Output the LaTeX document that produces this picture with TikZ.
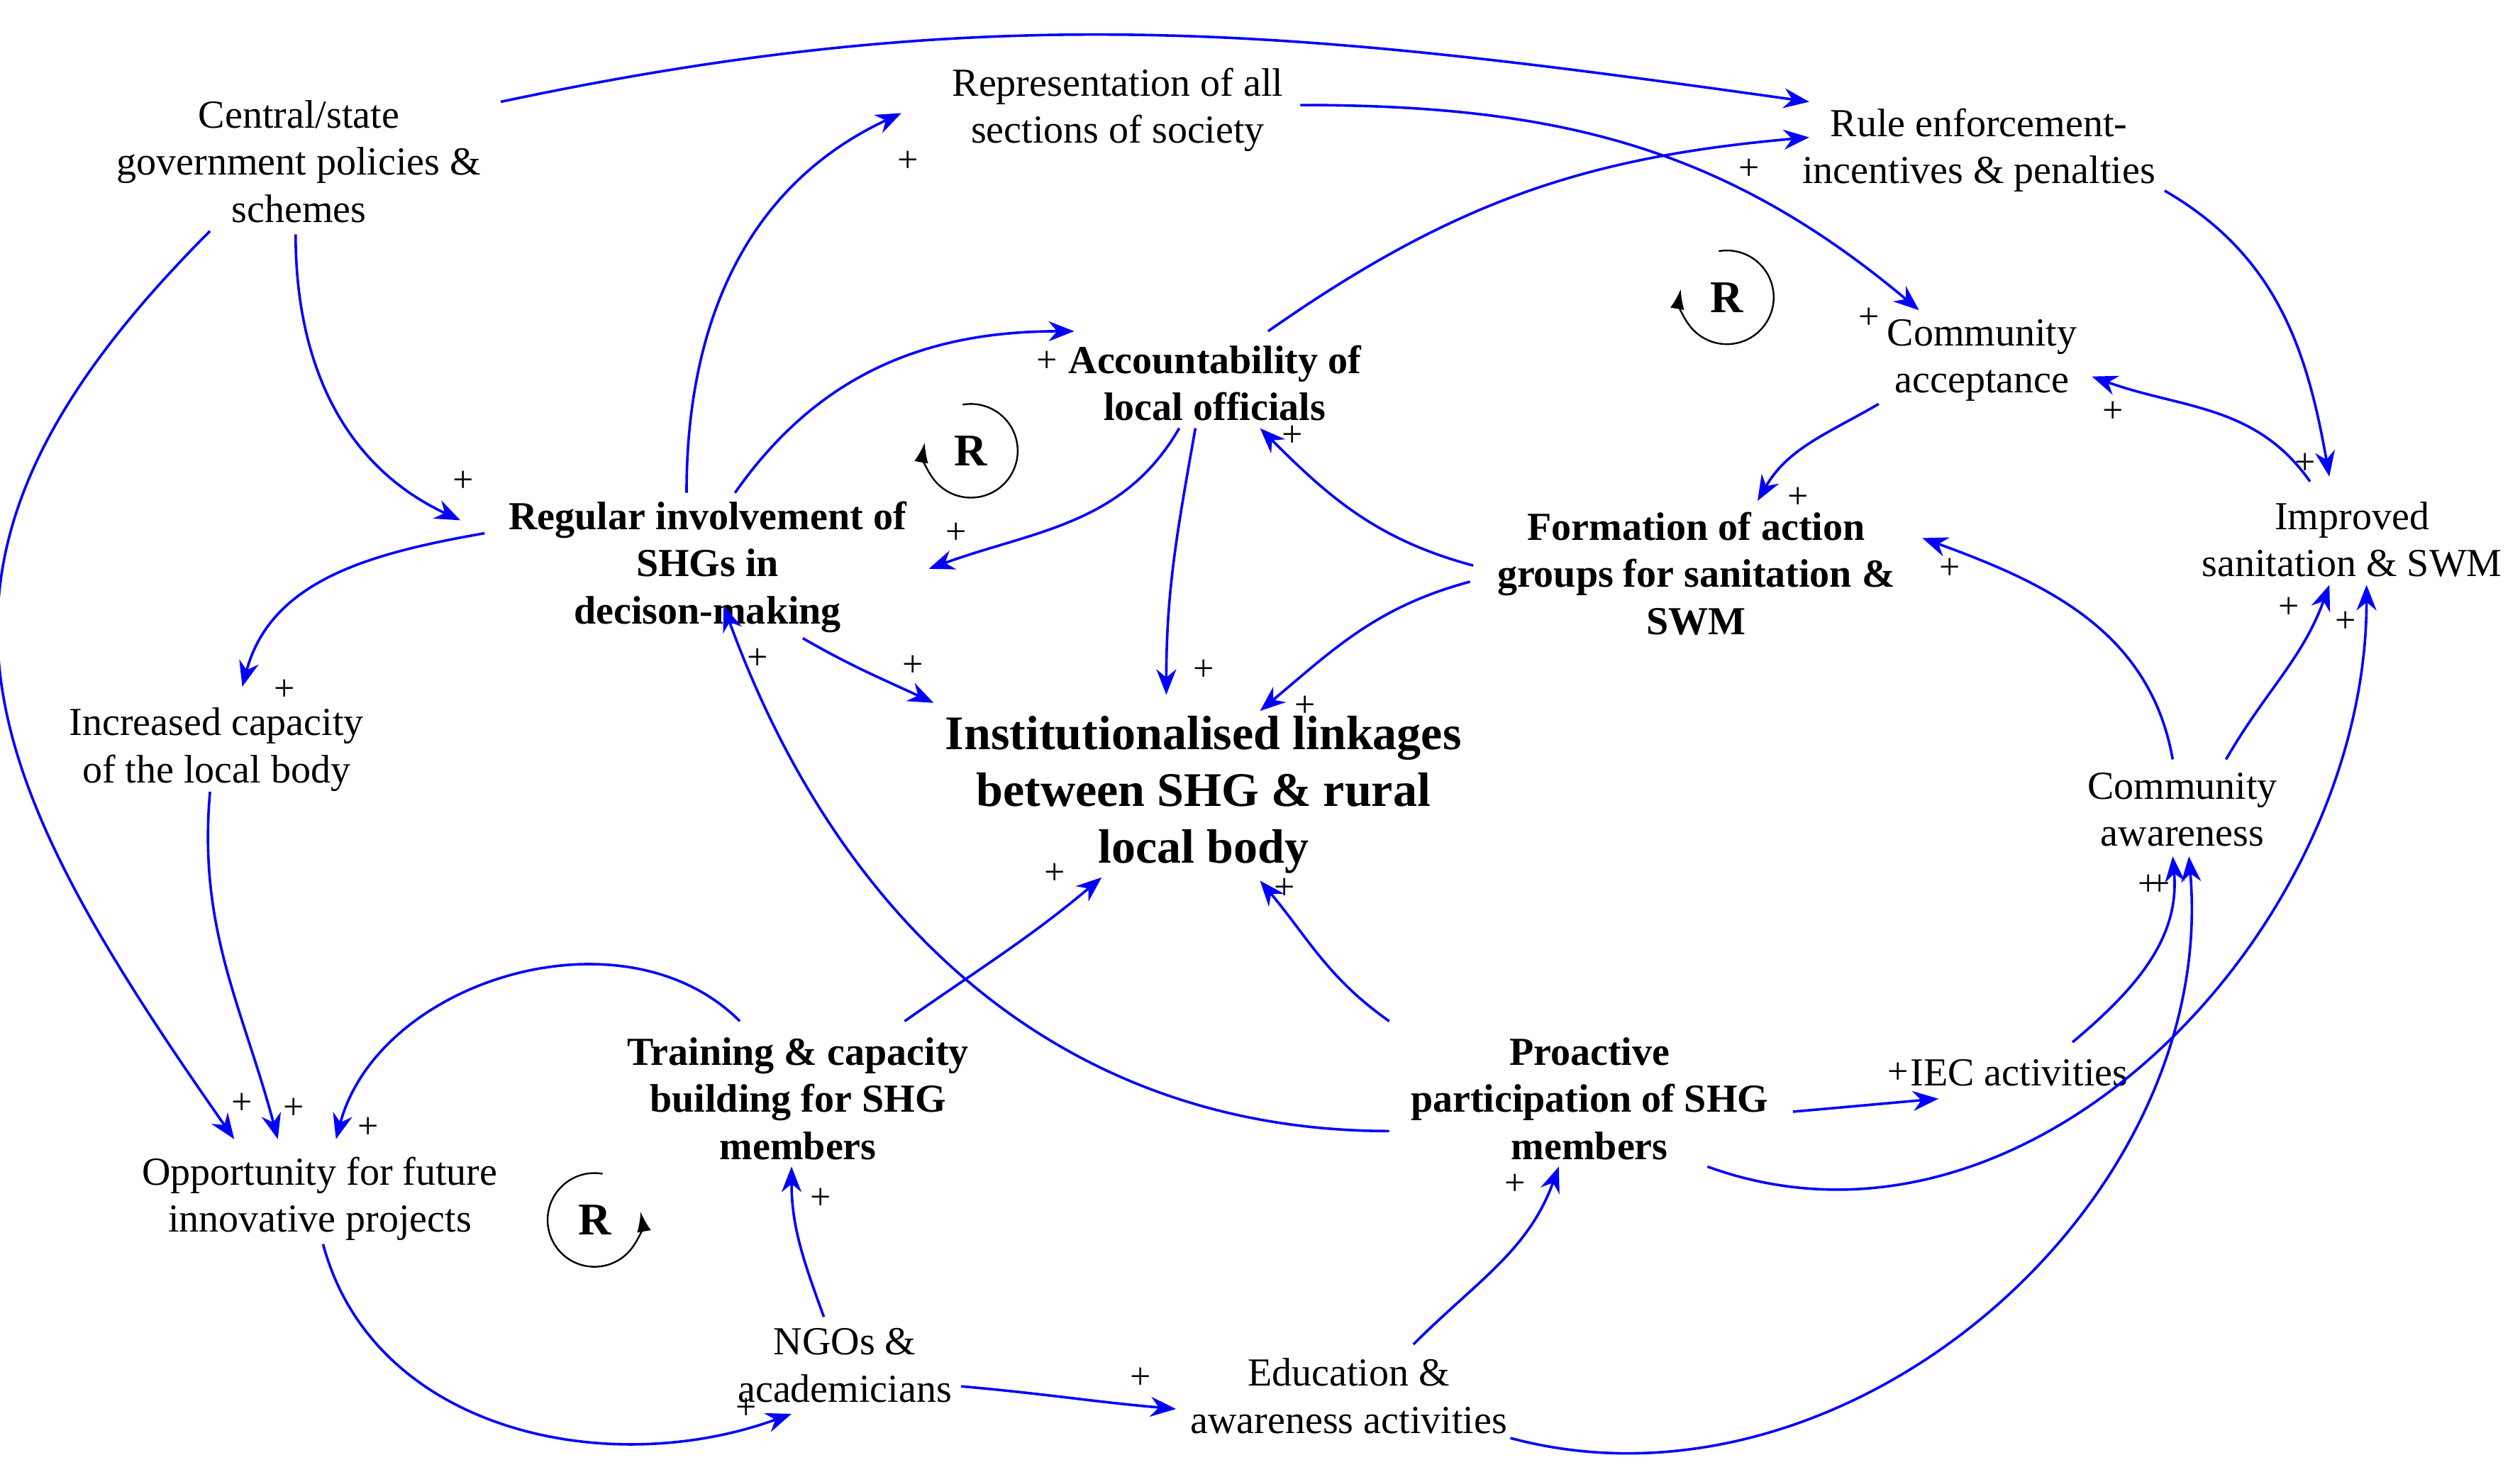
\documentclass[tikz,border=0pt]{standalone}
\usepackage{fontspec}
\setmainfont{Liberation Serif}
\usetikzlibrary{arrows.meta}
\begin{document}
\begin{tikzpicture}[x=0.02cm,y=-0.02cm,
 t/.style={align=center,inner sep=2pt,font=\fontsize{14}{16.6}\selectfont},
 b/.style={t,font=\fontsize{14}{16.6}\selectfont\bfseries},
 p/.style={inner sep=0pt,font=\fontsize{13}{13}\selectfont},
 e/.style={draw=blue,line width=0.9pt,-{Stealth[length=9pt,width=7pt]},fill=none},
 lp/.style={line width=0.6pt,-{Latex[length=7pt,width=5pt]}}]
\useasboundingbox (0,0) rectangle (1560,917);
\node[t] (cs) at (185,100) {Central/state\\government policies \&\\schemes};
\node[t] (rep) at (692,68) {Representation of all\\sections of society};
\node[t] (rule) at (1225,93) {Rule enforcement-\\incentives \& penalties};
\node[t] (ca) at (1227,223) {Community\\acceptance};
\node[b] (acc) at (752,237) {Accountability of\\local officials};
\node[b] (reg) at (438,351) {Regular involvement of\\SHGs in\\decison-making};
\node[b] (form) at (1050,355) {Formation of action\\groups for sanitation \&\\SWM};
\node[t] (imp) at (1456,334) {Improved\\sanitation \& SWM};
\node[t] (inc) at (134,464) {Increased capacity\\of the local body};
\node[t,font=\fontsize{17}{20}\selectfont\bfseries] (inst) at (745,492) {Institutionalised linkages\\between SHG \& rural\\local body};
\node[t] (caw) at (1351,501) {Community\\awareness};
\node[b] (tr) at (494,680) {Training \& capacity\\building for SHG\\members};
\node[b] (pro) at (984,680) {Proactive\\participation of SHG\\members};
\node[t] (iec) at (1250,664) {IEC activities};
\node[t] (opp) at (198,742) {Opportunity for future\\innovative projects};
\node[t] (ngo) at (523,845) {NGOs \&\\academicians};
\node[t] (edu) at (835,864) {Education \&\\awareness activities};
% loops
\node[font=\fontsize{16}{16}\selectfont\bfseries] (l1) at (601,279) {R};
\node[font=\fontsize{16}{16}\selectfont\bfseries] (l2) at (1069,184) {R};
\node[font=\fontsize{16}{16}\selectfont\bfseries] (l3) at (368,755) {R};
\draw[lp] ([shift={(100:0.58cm)}]l1.center) arc[start angle=100,end angle=-190,radius=0.58cm];
\draw[lp] ([shift={(100:0.58cm)}]l2.center) arc[start angle=100,end angle=-190,radius=0.58cm];
\draw[lp] ([shift={(80:0.58cm)}]l3.center) arc[start angle=80,end angle=370,radius=0.58cm];
% edges
\draw[e] ([shift={(125,-37)}]cs.center) to[out=12,in=172] ([shift={(-105,-30)}]rule.center);
\draw[e] ([shift={(-2,45)}]cs.center) to[out=-90,in=155] ([shift={(-153,-29)}]reg.center);
\draw[e] ([shift={(-55,43)}]cs.center) to[out=-135,in=125,looseness=1.3] ([shift={(-53,-37)}]opp.center);
\draw[e] ([shift={(113,-3)}]rep.center) to[out=0,in=140] ([shift={(-39,-31)}]ca.center);
\draw[e] ([shift={(-13,-46)}]reg.center) to[out=90,in=205] ([shift={(-134,2)}]rep.center);
\draw[e] ([shift={(17,-46)}]reg.center) to[out=55,in=180] ([shift={(-87,-32)}]acc.center);
\draw[e] ([shift={(-22,28)}]acc.center) to[out=-120,in=20] ([shift={(137,1)}]reg.center);
\draw[e] ([shift={(33,-32)}]acc.center) to[out=35,in=185] ([shift={(-105,-8)}]rule.center);
\draw[e] ([shift={(-12,28)}]acc.center) to[out=-100,in=90] ([shift={(-23,-62)}]inst.center);
\draw[e] ([shift={(-138,-5)}]form.center) to[out=165,in=-45] ([shift={(28,28)}]acc.center);
\draw[e] ([shift={(-140,5)}]form.center) to[out=195,in=40] ([shift={(35,-52)}]inst.center);
\draw[e] ([shift={(-64,27)}]ca.center) to[out=-150,in=60] ([shift={(38,-45)}]form.center);
\draw[e] ([shift={(-26,-36)}]imp.center) to[out=125,in=-20] ([shift={(68,10)}]ca.center);
\draw[e] ([shift={(115,25)}]rule.center) to[out=-30,in=100] ([shift={(-14,-39)}]imp.center);
\draw[e] ([shift={(-138,-21)}]reg.center) to[out=190,in=75] ([shift={(16,-39)}]inc.center);
\draw[e] ([shift={(59,44)}]reg.center) to[out=-30,in=155] ([shift={(-167,-57)}]inst.center);
\draw[e] ([shift={(-124,20)}]pro.center) to[out=180,in=-70] ([shift={(10,24)}]reg.center);
\draw[e] ([shift={(-4,26)}]inc.center) to[out=-95,in=105] ([shift={(-26,-37)}]opp.center);
\draw[e] ([shift={(-36,-48)}]tr.center) to[out=135,in=75] ([shift={(10,-37)}]opp.center);
\draw[e] ([shift={(66,-48)}]tr.center) to[out=35,in=-140] ([shift={(-63,51)}]inst.center);
\draw[e] ([shift={(-124,-48)}]pro.center) to[out=145,in=-50] ([shift={(35,53)}]inst.center);
\draw[e] ([shift={(126,8)}]pro.center) to[out=5,in=185] ([shift={(-50,16)}]iec.center);
\draw[e] ([shift={(33,-19)}]iec.center) to[out=40,in=-85] ([shift={(-6,29)}]caw.center);
\draw[e] ([shift={(27,-31)}]caw.center) to[out=60,in=-110] ([shift={(-14,28)}]imp.center);
\draw[e] ([shift={(-6,-31)}]caw.center) to[out=100,in=-20] ([shift={(140,-22)}]form.center);
\draw[e] ([shift={(73,42)}]pro.center) to[out=-20,in=-90] ([shift={(9,28)}]imp.center);
\draw[e] ([shift={(2,28)}]opp.center) to[out=-75,in=200] ([shift={(-33,30)}]ngo.center);
\draw[e] ([shift={(-13,-30)}]ngo.center) to[out=110,in=-90] ([shift={(-4,42)}]tr.center);
\draw[e] ([shift={(72,13)}]ngo.center) to[out=-5,in=175] ([shift={(-107,8)}]edu.center);
\draw[e] ([shift={(40,-32)}]edu.center) to[out=45,in=-110] ([shift={(-19,42)}]pro.center);
\draw[e] ([shift={(100,26)}]edu.center) to[out=-15,in=-85] ([shift={(4,29)}]caw.center);
% polarities
\foreach \n/\x/\y in {a/287/298,b/150/683,c/1157/197,d/562/100,f/648/224,g/592/330,h/1083/105,i/745/415,j/800/270,k/808/437,l/1113/308,m/1308/255,n/1427/287,o/176/427,q/565/412,r/469/408,s/182/686,u/228/698,v/653/541,w/795/550,x/1175/664,y/1330/548,z/1417/376,aa/1207/352,ab/1452/385,ac/462/872,ad/508/742,ae/706/853,af/938/733,ag/1337/548}
  \node[p] (p\n) at (\x,\y) {+};
\end{tikzpicture}
\end{document}
